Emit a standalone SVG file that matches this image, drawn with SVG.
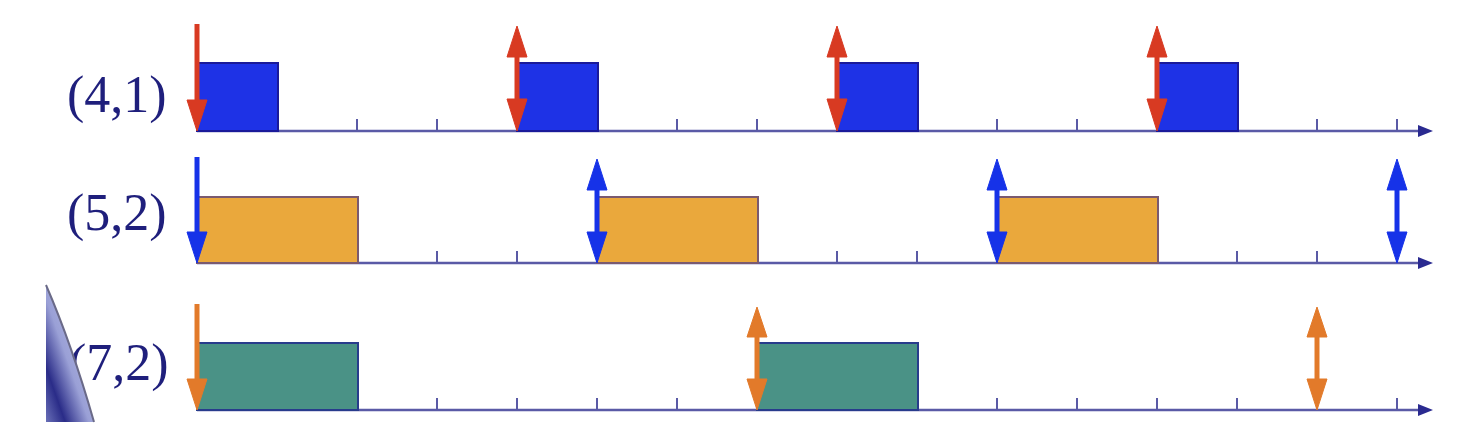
<svg xmlns="http://www.w3.org/2000/svg" width="1476" height="432" viewBox="0 0 1476 432">
<style>
.lbl{font-family:"Liberation Serif","Times New Roman",serif;font-size:52px;fill:#1f1f7c}
.axis{stroke:#5a5aa6;stroke-width:2.5;fill:none}
.tick{stroke:#5a5aa6;stroke-width:2;fill:none}
.ahead{fill:#2a2a90}
.b1{fill:#1e32e6;stroke:#1a1a9a;stroke-width:2}
.b2{fill:#eaa83c;stroke:#7a5a70;stroke-width:2}
.b3{fill:#4a9286;stroke:#283c8c;stroke-width:2}
.red{fill:#d83a22;stroke:#d83a22}
.blu{fill:#1632e8;stroke:#1632e8}
.org{fill:#e27a2a;stroke:#e27a2a}
.shaft{stroke-width:5;fill:none}
</style>
<defs>
<linearGradient id="g" x1="1" y1="0" x2="0" y2="1">
<stop offset="0" stop-color="#c4c8ec"/>
<stop offset="0.55" stop-color="#9aa0d6"/>
<stop offset="0.8" stop-color="#2a2c88"/>
<stop offset="1" stop-color="#6a70b8"/>
</linearGradient>
<g id="ticks">
<path class="tick" d="M277,0v-12M357,0v-12M437,0v-12M517,0v-12M597,0v-12M677,0v-12M757,0v-12M837,0v-12M917,0v-12M997,0v-12M1077,0v-12M1157,0v-12M1237,0v-12M1317,0v-12M1397,0v-12"/>
<path class="axis" d="M197,0H1420"/>
<polygon class="ahead" points="1418,-6 1433,0 1418,6"/>
</g>
</defs>

<g id="row1">
<text class="lbl" x="67" y="112">(4,1)</text>
<use href="#ticks" transform="translate(0,131)"/>
<rect class="b1" x="197" y="63" width="81" height="68"/>
<rect class="b1" x="517" y="63" width="81" height="68"/>
<rect class="b1" x="837" y="63" width="81" height="68"/>
<rect class="b1" x="1157" y="63" width="81" height="68"/>
</g>

<g id="row2">
<text class="lbl" x="67" y="230">(5,2)</text>
<use href="#ticks" transform="translate(0,263)"/>
<rect class="b2" x="197" y="197" width="161" height="66"/>
<rect class="b2" x="597" y="197" width="161" height="66"/>
<rect class="b2" x="997" y="197" width="161" height="66"/>
</g>

<g id="row3">
<text class="lbl" x="69" y="380">(7,2)</text>
<use href="#ticks" transform="translate(0,410)"/>
<rect class="b3" x="197" y="343" width="161" height="67"/>
<rect class="b3" x="757" y="343" width="161" height="67"/>
</g>

<g id="connectors">
<g class="red">
<path class="shaft" d="M197,24V102"/>
<polygon points="187,100 207,100 197,131"/>
<path class="shaft" d="M517,55V99"/>
<polygon points="507,57 527,57 517,26"/>
<polygon points="507,99 527,99 517,131"/>
<path class="shaft" d="M837,55V99"/>
<polygon points="827,57 847,57 837,26"/>
<polygon points="827,99 847,99 837,131"/>
<path class="shaft" d="M1157,55V99"/>
<polygon points="1147,57 1167,57 1157,26"/>
<polygon points="1147,99 1167,99 1157,131"/>
</g>
<g class="blu">
<path class="shaft" d="M197,157V234"/>
<polygon points="187,232 207,232 197,263"/>
<path class="shaft" d="M597,188V234"/>
<polygon points="587,190 607,190 597,159"/>
<polygon points="587,232 607,232 597,263"/>
<path class="shaft" d="M997,188V234"/>
<polygon points="987,190 1007,190 997,159"/>
<polygon points="987,232 1007,232 997,263"/>
<path class="shaft" d="M1397,188V234"/>
<polygon points="1387,190 1407,190 1397,159"/>
<polygon points="1387,232 1407,232 1397,263"/>
</g>
<g class="org">
<path class="shaft" d="M197,304V381"/>
<polygon points="187,379 207,379 197,410"/>
<path class="shaft" d="M757,335V381"/>
<polygon points="747,337 767,337 757,307"/>
<polygon points="747,379 767,379 757,410"/>
<path class="shaft" d="M1317,335V381"/>
<polygon points="1307,337 1327,337 1317,307"/>
<polygon points="1307,379 1327,379 1317,410"/>
</g>
</g>

<g id="overlay">
<path d="M46,285 Q72,345 94,422 L46,422 Z" fill="url(#g)"/>
<path d="M46,285 Q72,345 94,422" fill="none" stroke="#6a6a88" stroke-width="2"/>
</g>
</svg>
